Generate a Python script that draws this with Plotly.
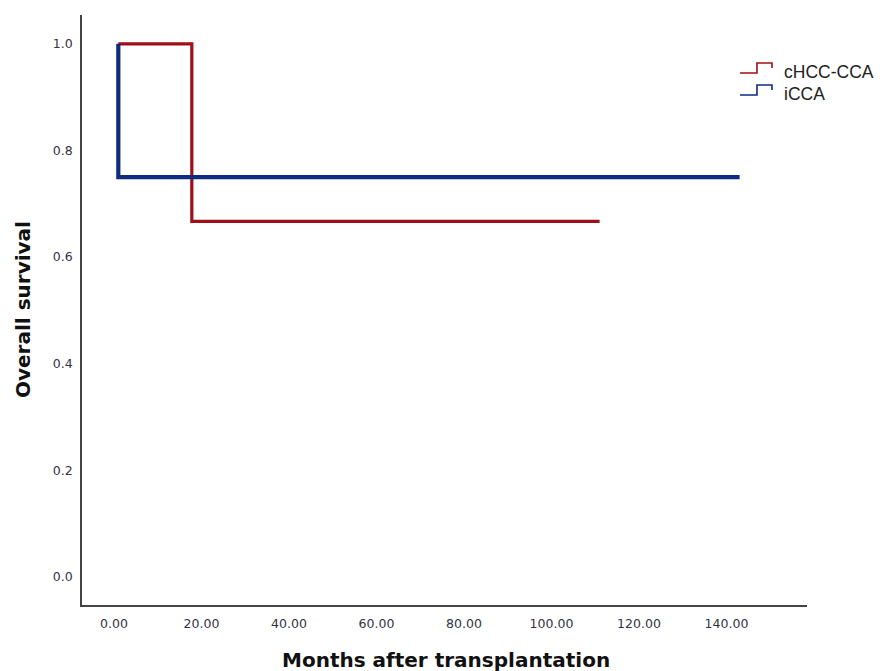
import plotly.graph_objects as go

# Kaplan-Meier step data (months after transplantation, survival probability)
chcc_time = [1.0, 17.8, 17.8, 111.0]
chcc_surv = [1.0, 1.0, 0.667, 0.667]
icca_time = [1.0, 1.0, 143.0]
icca_surv = [1.0, 0.75, 0.75]

series_names = ["cHCC-CCA", "iCCA"]
series_colors = ["#9E0F17", "#0E2B80"]

x_ticks = [0, 20, 40, 60, 80, 100, 120, 140]
x_tick_text = ["0.00", "20.00", "40.00", "60.00", "80.00", "100.00", "120.00", "140.00"]
y_ticks = [0.0, 0.2, 0.4, 0.6, 0.8, 1.0]
y_tick_text = ["0.0", "0.2", "0.4", "0.6", "0.8", "1.0"]

fig = go.Figure()
fig.add_trace(go.Scatter(x=chcc_time, y=chcc_surv, mode="lines", name=series_names[0],
                         line=dict(color=series_colors[0], width=3.2), showlegend=False))
fig.add_trace(go.Scatter(x=icca_time, y=icca_surv, mode="lines", name=series_names[1],
                         line=dict(color=series_colors[1], width=4.2), showlegend=False))

tick_font = dict(family="DejaVu Sans, sans-serif", size=12.5, color="#333344")
title_font = dict(family="DejaVu Sans, sans-serif", size=20, color="#111111")

fig.update_layout(
    width=880, height=671,
    margin=dict(l=82, r=73, t=15, b=66),
    paper_bgcolor="white", plot_bgcolor="white",
    xaxis=dict(range=[-7.3, 158.4], tickvals=x_ticks, ticktext=x_tick_text,
               showgrid=False, zeroline=False, showline=True, linecolor="#444444", linewidth=1.5,
               ticks="outside", ticklen=6, tickcolor="rgba(0,0,0,0)", tickfont=tick_font),
    yaxis=dict(range=[-0.0525, 1.054], tickvals=y_ticks, ticktext=y_tick_text,
               showgrid=False, zeroline=False, showline=True, linecolor="#444444", linewidth=1.5,
               ticks="outside", ticklen=5, tickcolor="rgba(0,0,0,0)", tickfont=tick_font),
)

# Plot-area pixel box, used to place the hand-drawn legend and titles
plot_l, plot_r, plot_t, plot_b = 82, 807, 15, 605


def to_paper(px, py):
    return (px - plot_l) / (plot_r - plot_l), (plot_b - py) / (plot_b - plot_t)


# Axis titles
tx, ty = to_paper(446, 660)
fig.add_annotation(text="<b>Months after transplantation</b>", xref="paper", yref="paper",
                   x=tx, y=ty, xanchor="center", yanchor="middle",
                   showarrow=False, font=title_font)
tx, ty = to_paper(23, 310)
fig.add_annotation(text="<b>Overall survival</b>", xref="paper", yref="paper",
                   x=tx, y=ty, xanchor="center", yanchor="middle", textangle=-90,
                   showarrow=False, font=title_font)

# Legend with step-shaped glyphs
legend_rows = [(72, 0), (94, 1)]
for y_px, idx in legend_rows:
    pts = [(740, y_px + 1), (757, y_px + 1), (757, y_px - 9), (772, y_px - 9), (772, y_px - 4)]
    path = "M " + " L ".join("{:.4f},{:.4f}".format(*to_paper(px, py)) for px, py in pts)
    fig.add_shape(type="path", path=path, xref="paper", yref="paper",
                  line=dict(color=series_colors[idx], width=1.6))
    ax, ay = to_paper(782, y_px)
    fig.add_annotation(text=series_names[idx], xref="paper", yref="paper", x=ax, y=ay,
                       xanchor="left", yanchor="middle", showarrow=False,
                       font=dict(family="Liberation Sans, Arial, sans-serif", size=17.5, color="#222222"))

fig.write_html("out.html")
